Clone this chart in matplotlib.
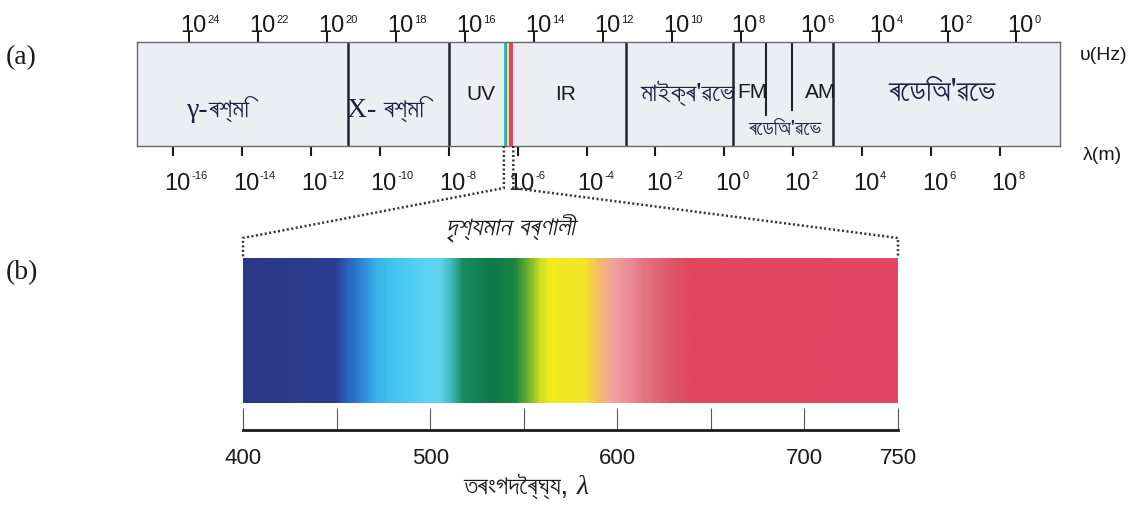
import numpy as np
import matplotlib
matplotlib.use("Agg")
import matplotlib.pyplot as plt
from matplotlib.colors import LinearSegmentedColormap
from matplotlib.lines import Line2D
from matplotlib import font_manager as fm
from matplotlib.ft2font import FT2Font

# ---------------- data ----------------
wavelength_exps = [-16, -14, -12, -10, -8, -6, -4, -2, 0, 2, 4, 6, 8]      # lambda (m) ticks
frequency_exps = [24, 22, 20, 18, 16, 14, 12, 10, 8, 6, 4, 2, 0]           # nu (Hz) ticks
band_bounds_full = [-10.92, -7.99, -2.85, 0.25, 3.15]                        # log10(lambda) region borders
band_bounds_part = [1.21, 1.96]                                              # FM / AM sub-borders
band_labels = ["γ-ৰশ্মি", "X- ৰশ্মি", "UV", "IR", "মাইক্ৰ'ৱেভ", "FM", "AM", "ৰেডিঅ'ৱেভ"]
band_label_pos = [-14.98, -9.90, -7.06, -4.60, -1.08, 0.80, 2.78, 6.32]
visible_strip_nm = [400, 455, 505, 545, 750]
visible_strip_colors = ["#35b4dc", "#2fa46c", "#f1dcb0", "#e2445f"]
spec_ticks = [400, 450, 500, 550, 600, 650, 700, 750]
spec_ticklabels = ["400", "", "500", "", "600", "", "700", "750"]
spec_stops_nm = [400, 448, 454.5, 462.5, 470.5, 481, 497, 505, 512, 517, 532, 545, 552, 559,
                 564, 583, 590, 597, 606, 617.5, 631, 641.5, 750]
spec_stops_col = ["#2b3886", "#2b3c92", "#2a5cb8", "#2a86d6", "#38b2e8", "#42c6f0", "#5ad2f2",
                  "#60d4ee", "#3cb4b0", "#188c60", "#0e7a4a", "#188440", "#6cb030", "#cde020",
                  "#f2ec1c", "#f4e42a", "#f4bc60", "#f2a69c", "#ec8c98", "#e26e7c", "#dc5466",
                  "#e0465e", "#e24664"]

LOG_C = np.log10(3e8)

# ---------------- fonts ----------------
beng = []
for f in fm.fontManager.ttflist:
    try:
        cm = FT2Font(f.fname).get_charmap()
        if 0x09B0 in cm and 0x0995 in cm and f.name not in beng:
            beng.append(f.name)
    except Exception:
        pass
pref = [n for n in ("FreeSans", "FreeSerif") if n in beng] + \
       [n for n in beng if n not in ("FreeSerif", "FreeSans")]
BENG = pref[:1] + ["DejaVu Sans"]
SERIF = ["Liberation Serif", "DejaVu Serif"]

plt.rcParams["font.family"] = ["Liberation Sans", "DejaVu Sans"]

W, H = 1140, 508
fig = plt.figure(figsize=(W / 100, H / 100), dpi=100)
fig.patch.set_facecolor("white")
TXT = "#1a1a1a"
BTXT = "#1c2140"

# ---------------- (a) band ----------------
ax = fig.add_axes([137 / W, 1 - 146 / H, 923 / W, 104 / H])
ax.set_xlim(-17.045, 9.74)
ax.set_ylim(0, 1)
ax.set_facecolor("#eceef3")
for s in ax.spines.values():
    s.set_linestyle((0, (1, 1)))
    s.set_color("#6a6a6a")
    s.set_linewidth(1.0)
ax.set_yticks([])
ax.set_xticks(wavelength_exps)
ax.set_xticklabels([])
ax.tick_params(axis="x", direction="out", length=7, width=1.5, colors=TXT)

sec = ax.secondary_xaxis("top", functions=(lambda e: LOG_C - e, lambda e: LOG_C - e))
sec.set_xticks(frequency_exps)
sec.set_xticklabels([])
sec.tick_params(axis="x", direction="out", length=7, width=1.5, colors=TXT)
sec.spines["top"].set_visible(False)

# tick labels "10" + small exponent
for e in wavelength_exps:
    ax.annotate("10", xy=(e, 0), xycoords=("data", "axes fraction"), xytext=(4, -44),
                textcoords="offset pixels", ha="center", va="baseline", fontsize=17, color=TXT)
    ax.annotate(str(e), xy=(e, 0), xycoords=("data", "axes fraction"), xytext=(18, -33),
                textcoords="offset pixels", ha="left", va="baseline", fontsize=8, color=TXT)
for f in frequency_exps:
    x = LOG_C - f
    ax.annotate("10", xy=(x, 1), xycoords=("data", "axes fraction"), xytext=(4, 10),
                textcoords="offset pixels", ha="center", va="baseline", fontsize=17, color=TXT)
    ax.annotate(str(f), xy=(x, 1), xycoords=("data", "axes fraction"), xytext=(18, 19),
                textcoords="offset pixels", ha="left", va="baseline", fontsize=8, color=TXT)

for b in band_bounds_full:
    ax.axvline(b, color="#1e2530", lw=1.8)
ax.axvline(band_bounds_part[0], ymin=0.30, color="#1e2530", lw=1.5)
ax.axvline(band_bounds_part[1], ymin=0.35, color="#1e2530", lw=1.5)

for i in range(len(visible_strip_colors)):
    ax.axvspan(np.log10(visible_strip_nm[i] * 1e-9), np.log10(visible_strip_nm[i + 1] * 1e-9),
               color=visible_strip_colors[i], lw=0)

ys = [0.28, 0.28, 0.5, 0.5, 0.5, 0.51, 0.51, 0.51]
bsizes = [19, 19, 15, 15, 19, 15, 15, 22]
for lab, x, y, fs in zip(band_labels, band_label_pos, ys, bsizes):
    if lab in ("UV", "IR", "FM", "AM"):
        ax.text(x, y, lab, ha="center", va="center", fontsize=fs, color=TXT,
                family=["Liberation Sans"])
    elif "ৰশ্মি" in lab:
        k = lab.index("ৰ")
        ax.text(x, y, lab[:k], ha="right", va="baseline", fontsize=20,
                color=BTXT, family=SERIF)
        ax.text(x, y, lab[k:], ha="left", va="baseline", fontsize=fs, color=BTXT,
                family=BENG)
    else:
        ax.text(x, y, lab, ha="center", va="center", fontsize=fs, color=BTXT,
                family=BENG + ["Liberation Serif"])
ax.text(1.77, 0.16, "ৰেডিঅ'ৱেভ", ha="center", va="center", fontsize=15, color=BTXT,
        family=BENG)

fig.text(1080 / W, 1 - 55 / H, "υ(Hz)", ha="left", va="center", fontsize=14, color=TXT,
         family=["Liberation Sans", "DejaVu Sans"])
fig.text(1083 / W, 1 - 155 / H, "λ(m)", ha="left", va="center", fontsize=14, color=TXT,
         family=["Liberation Sans", "DejaVu Sans"])
fig.text(6 / W, 1 - 58 / H, "(a)", ha="left", va="center", fontsize=20, color=TXT,
         family=["Liberation Serif"])
fig.text(6 / W, 1 - 273 / H, "(b)", ha="left", va="center", fontsize=20, color=TXT,
         family=["Liberation Serif"])

# ---------------- (b) visible spectrum ----------------
ax2 = fig.add_axes([243 / W, 1 - 430 / H, 655 / W, 172 / H])
ax2.set_xlim(400, 750)
ax2.set_ylim(0, 1)
img_bottom = 27 / 172
cmap = LinearSegmentedColormap.from_list(
    "spec", [((n - 400) / 350, c) for n, c in zip(spec_stops_nm, spec_stops_col)])
lam = np.linspace(400, 750, 700)[None, :]
ax2.imshow(lam, cmap=cmap, vmin=400, vmax=750, extent=(400, 750, img_bottom, 1),
           aspect="auto", interpolation="bilinear")
for k in ("top", "left", "right"):
    ax2.spines[k].set_visible(False)
ax2.spines["bottom"].set_linewidth(2)
ax2.spines["bottom"].set_color("#1a1a1a")
ax2.set_yticks([])
ax2.set_xticks(spec_ticks)
ax2.set_xticklabels(spec_ticklabels)
ax2.tick_params(axis="x", direction="in", length=15.5, width=0.8, color="#555",
                pad=13, labelsize=16, labelcolor=TXT)

fig.text(510 / W, 1 - 228 / H, "দৃশ্যমান বৰ্ণালী", ha="center", va="center", fontsize=19,
         color=TXT, style="italic", family=BENG)
fig.text(568 / W, 1 - 487 / H, "তৰংগদৈৰ্ঘ্য,", ha="right", va="center", fontsize=19,
         color=TXT, family=BENG)
fig.text(577 / W, 1 - 487 / H, "λ", ha="left", va="center", fontsize=20,
         color=TXT, style="italic", family=SERIF)

# ---------------- dotted connectors ----------------
inv = fig.transFigure.inverted()
bl = ax.transData.transform((np.log10(400e-9), 0))
br = ax.transData.transform((np.log10(750e-9), 0))
sl = ax2.transData.transform((400, 1))
sr = ax2.transData.transform((750, 1))
for b, s in ((bl, sl), (br, sr)):
    pts = np.array([b, (b[0], b[1] - 42), (s[0], s[1] + 20), s])
    pf = inv.transform(pts)
    fig.add_artist(Line2D(pf[:, 0], pf[:, 1], transform=fig.transFigure, color="#333",
                          lw=1.8, linestyle=(0, (0.8, 1.0))))

fig.savefig("out.png", dpi=100)
